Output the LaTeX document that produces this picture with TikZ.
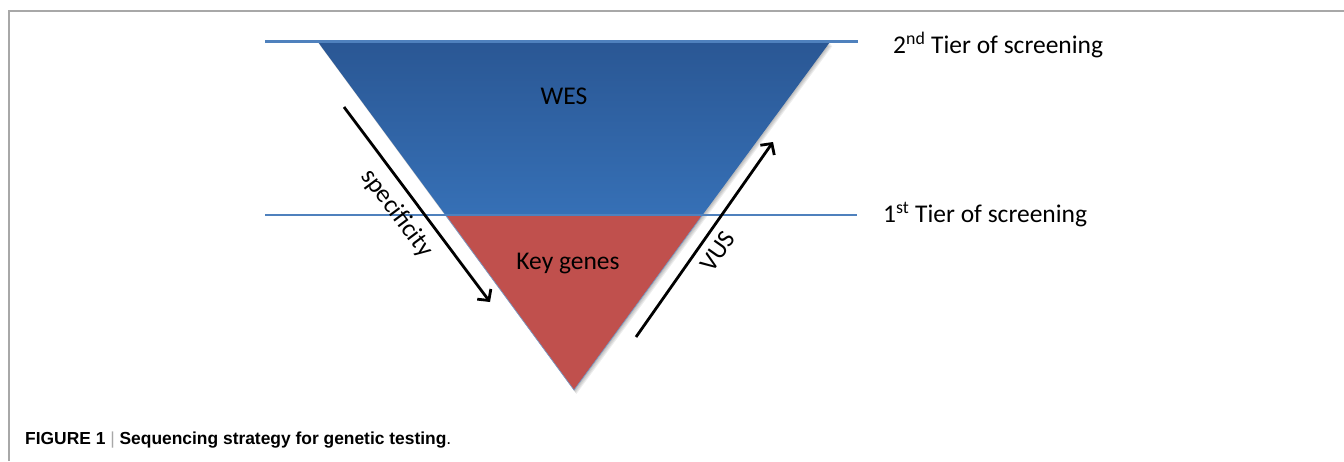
\documentclass[tikz,border=0pt]{standalone}
\usepackage{fontspec}
\setmainfont{Carlito}
\newfontfamily\capfont{Liberation Sans}
\usetikzlibrary{arrows.meta}
\definecolor{bluetop}{HTML}{2A5794}
\definecolor{bluebot}{HTML}{3670B6}
\definecolor{keyred}{HTML}{C0504D}
\definecolor{tierline}{HTML}{4F81BD}
\definecolor{framegray}{HTML}{A8A8A8}
\tikzset{
  tier/.style={draw=tierline, line width=2.6pt},
  lbl/.style={font=\fontsize{25.5}{28}\selectfont, text=black, inner sep=0pt},
  flowarrow/.style={line width=2.8pt, -{Straight Barb[length=8pt,width=17pt,line width=2.8pt]}},
  softshadow/.style={fill=black, opacity=0.07, draw=none}
}
\begin{document}
\begin{tikzpicture}[x=1pt,y=-1pt]
\useasboundingbox (0,0) rectangle (1344,461);
% frame
\draw[framegray, line width=1.6pt] (9,461) -- (9,11) -- (1344,11);
% soft shadow
\foreach \d in {1,2,3,4}{
  \fill[softshadow] (318+\d*0.6,42+\d) -- (830+\d*0.6,42+\d) -- (574+\d*0.6,390+\d) -- cycle;
}
% shapes
\shade[top color=bluetop, bottom color=bluebot] (318,42) -- (830,42) -- (702.5,215) -- (445.5,215) -- cycle;
\fill[keyred] (445.5,215) -- (702.5,215) -- (574,390) -- cycle;
\draw[tierline!80!white, line width=0.6pt] (445.5,215) -- (574,390) -- (702.5,215);
% tier lines
\coordinate (t2a) at (265,41.5);
\coordinate (t2b) at (858,41.5);
\coordinate (t1a) at (265,215);
\coordinate (t1b) at (857,215);
\draw[tier] (t2a) -- (t2b);
\draw[tier] (t1a) -- (t1b);
% labels
\node[lbl, anchor=west] (tier2) at (893,45) {2\textsuperscript{nd} Tier of screening};
\node[lbl, anchor=west] (tier1) at (883,215) {1\textsuperscript{st} Tier of screening};
\node[lbl] (wes) at (564,96) {WES};
\node[lbl] (key) at (568,264) {Key genes};
% arrows
\coordinate (s1) at (344,107);
\coordinate (s2) at (490,302);
\coordinate (v1) at (636,337);
\coordinate (v2) at (773,142);
\draw[flowarrow] (s1) -- node[lbl, sloped, below=9pt, pos=0.48] (spec) {specificity} (s2);
\draw[flowarrow] (v1) -- node[lbl, sloped, below=8pt, pos=0.49] (vus) {VUS} (v2);
% caption
\node[anchor=west, inner sep=0pt, font=\capfont\fontsize{17.4}{20}\selectfont] (caption) at (25,440)
  {\textbf{FIGURE 1} \textcolor{framegray}{|} \textbf{Sequencing strategy for genetic testing}.};
\end{tikzpicture}
\end{document}
